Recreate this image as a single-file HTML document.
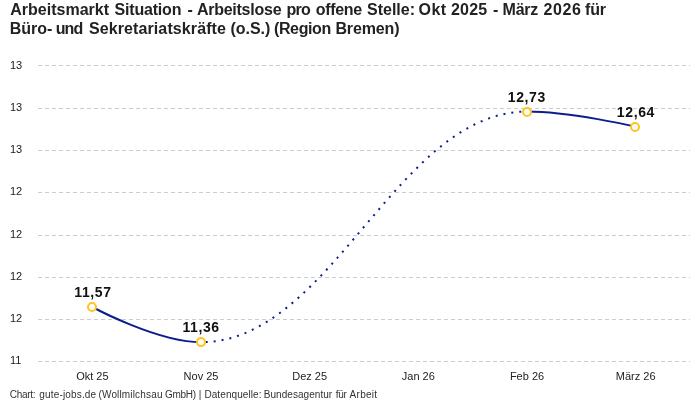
<!DOCTYPE html>
<html><head><meta charset="utf-8">
<style>
html,body{margin:0;padding:0;background:#fff;width:700px;height:400px;overflow:hidden;}
body{position:relative;font-family:"Liberation Sans",sans-serif;}
.L{position:absolute;left:0;top:0;width:700px;height:400px;will-change:transform;}
.t{position:absolute;white-space:nowrap;font-weight:bold;font-size:16px;color:#222;line-height:19px;}
.yl{position:absolute;left:10px;font-size:11px;color:#222;line-height:13px;white-space:nowrap;}
.xl{position:absolute;font-size:11px;color:#222;line-height:13px;white-space:nowrap;transform:translateX(-50%);}
.dl{position:absolute;font-size:14px;font-weight:bold;color:#111;line-height:16px;white-space:nowrap;transform:translateX(-50%);letter-spacing:0.6px;text-indent:0.6px;}
.ft{position:absolute;top:388.5px;font-size:10px;color:#333;line-height:12px;white-space:nowrap;}
svg{position:absolute;left:0;top:0;}
</style></head><body>
<div class="L">
<div class="t" style="left:10.30px;top:0px">Arbeitsmarkt</div>
<div class="t" style="left:114.60px;top:0px;letter-spacing:-0.20px">Situation</div>
<div class="t" style="left:187.40px;top:0px">-</div>
<div class="t" style="left:196.90px;top:0px;letter-spacing:-0.25px">Arbeitslose</div>
<div class="t" style="left:286.40px;top:0px;letter-spacing:-0.65px">pro</div>
<div class="t" style="left:315.70px;top:0px;letter-spacing:-0.32px">offene</div>
<div class="t" style="left:367.10px;top:0px;letter-spacing:-0.02px">Stelle:</div>
<div class="t" style="left:418.60px;top:0px;letter-spacing:0.40px">Okt</div>
<div class="t" style="left:451.00px;top:0px;letter-spacing:0.20px">2025</div>
<div class="t" style="left:492.90px;top:0px">-</div>
<div class="t" style="left:502.60px;top:0px;letter-spacing:-0.23px">März</div>
<div class="t" style="left:543.60px;top:0px;letter-spacing:0.57px">2026</div>
<div class="t" style="left:585.00px;top:0px;letter-spacing:-0.15px">für</div>
<div class="t" style="left:9.70px;top:19px">Büro-</div>
<div class="t" style="left:55.70px;top:19px;letter-spacing:-0.90px">und</div>
<div class="t" style="left:88.90px;top:19px;letter-spacing:0.11px">Sekretariatskräfte</div>
<div class="t" style="left:230.40px;top:19px">(o.S.)</div>
<div class="t" style="left:274.00px;top:19px;letter-spacing:-0.38px">(Region</div>
<div class="t" style="left:335.40px;top:19px;letter-spacing:-0.13px">Bremen)</div>

<svg width="700" height="400" viewBox="0 0 700 400">
<defs>
<clipPath id="z0"><rect x="0" y="0" width="201" height="400"/></clipPath>
<clipPath id="z1"><rect x="201" y="0" width="326" height="400"/></clipPath>
<clipPath id="z2"><rect x="527" y="0" width="173" height="400"/></clipPath>
</defs>
<path d="M38 65.5H690M38 108.5H690M38 150.5H690M38 192.5H690M38 235.5H690M38 277.5H690M38 319.5H690M38 361.5H690" stroke="#cccccc" stroke-width="1" stroke-dasharray="4 3" fill="none"/>
<g fill="none" stroke="#0b1e8c" stroke-width="2">
<path clip-path="url(#z0)" stroke-linecap="round" stroke-linejoin="round" d="M92.33 307.00 C92.33 307.00 157.53 342.15 201.00 342.15 C331.40 342.15 396.60 111.60 527.00 111.60 C570.47 111.60 635.67 126.65 635.67 126.65"/>
<path clip-path="url(#z1)" stroke-dasharray="2 6" stroke-dashoffset="0.25" d="M92.33 307.00 C92.33 307.00 157.53 342.15 201.00 342.15 C331.40 342.15 396.60 111.60 527.00 111.60 C570.47 111.60 635.67 126.65 635.67 126.65"/>
<path clip-path="url(#z2)" stroke-linecap="round" stroke-linejoin="round" d="M92.33 307.00 C92.33 307.00 157.53 342.15 201.00 342.15 C331.40 342.15 396.60 111.60 527.00 111.60 C570.47 111.60 635.67 126.65 635.67 126.65"/>
</g>
<g fill="#fff" stroke="#ffc51c" stroke-width="2">
<circle cx="92" cy="307" r="4"/>
<circle cx="201" cy="342.1" r="4"/>
<circle cx="527" cy="111.9" r="4"/>
<circle cx="635" cy="126.95" r="4"/>
</g>
</svg>

<div class="yl" style="top:59px">13</div>
<div class="yl" style="top:101px">13</div>
<div class="yl" style="top:143px">13</div>
<div class="yl" style="top:185px">12</div>
<div class="yl" style="top:228px">12</div>
<div class="yl" style="top:270px">12</div>
<div class="yl" style="top:312px">12</div>
<div class="yl" style="top:354px">11</div>

<div class="xl" style="left:92.33px;top:370px">Okt 25</div>
<div class="xl" style="left:201.00px;top:370px">Nov 25</div>
<div class="xl" style="left:309.67px;top:370px">Dez 25</div>
<div class="xl" style="left:418.33px;top:370px">Jan 26</div>
<div class="xl" style="left:527.00px;top:370px">Feb 26</div>
<div class="xl" style="left:635.67px;top:370px">März 26</div>

<div class="dl" style="left:92.7px;top:284px">11,57</div>
<div class="dl" style="left:200.8px;top:319px">11,36</div>
<div class="dl" style="left:526.5px;top:89px">12,73</div>
<div class="dl" style="left:635.6px;top:104px">12,64</div>

<div class="ft" style="left:9.80px;letter-spacing:-0.29px">Chart:</div>
<div class="ft" style="left:39.33px;letter-spacing:0.16px">gute-jobs.de</div>
<div class="ft" style="left:98.48px;letter-spacing:0.16px">(Wollmilchsau</div>
<div class="ft" style="left:164.90px;letter-spacing:-0.28px">GmbH)</div>
<div class="ft" style="left:198.82px">|</div>
<div class="ft" style="left:204.42px;letter-spacing:0.09px">Datenquelle:</div>
<div class="ft" style="left:263.73px;letter-spacing:0.05px">Bundesagentur</div>
<div class="ft" style="left:335.78px;letter-spacing:-0.34px">für</div>
<div class="ft" style="left:349.60px;letter-spacing:0.28px">Arbeit</div>
</div>
</body></html>
